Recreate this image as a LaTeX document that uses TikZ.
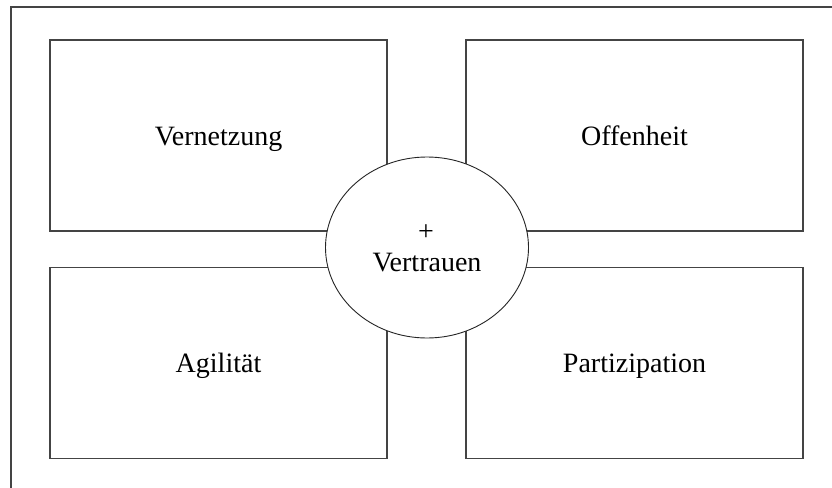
\documentclass[tikz,border=0pt]{standalone}
\usepackage{fontspec}
\setmainfont{Liberation Serif}
\usetikzlibrary{shapes.geometric}
\definecolor{linegray}{HTML}{444444}
\begin{document}
\begin{tikzpicture}[x=1pt,y=-1pt,
  framestyle/.style={draw=linegray,line width=1.8pt},
  boxstyle/.style={draw=linegray,line width=1.8pt,minimum width=337pt,minimum height=191pt,inner sep=0pt,text height=19pt,text depth=0pt,font=\fontsize{28}{32}\selectfont},
  ellstyle/.style={ellipse,draw=black!85,line width=0.9pt,fill=white,minimum width=203pt,minimum height=181pt,inner sep=0pt},
  txt/.style={font=\fontsize{28}{32}\selectfont,inner sep=0pt}]
\useasboundingbox (0,0) rectangle (832,487);
\fill[white] (0,0) rectangle (832,487);
\coordinate (fbl) at (11,488);
\coordinate (ftl) at (11,7);
\coordinate (ftr) at (833,7);
\draw[framestyle] (fbl) -- (ftl) -- (ftr);
\node[boxstyle] (vern) at (218.5,135.5) {Vernetzung};
\node[boxstyle] (offen) at (634.5,135.5) {Offenheit};
\node[boxstyle] (agil) at (218.5,363) {Agilität};
\node[boxstyle] (part) at (634.5,363) {Partizipation};
\node[ellstyle] (vert) at (427,247.5) {};
\node[txt] (plus) at (426,233) {+};
\node[txt] (vtext) at (427,263) {Vertrauen};
\end{tikzpicture}
\end{document}
